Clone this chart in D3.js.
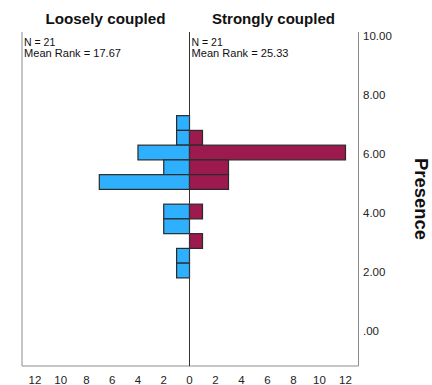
<!DOCTYPE html>
<html>
<head>
<meta charset="utf-8">
<script src="https://cdn.jsdelivr.net/npm/d3@7"></script>
<style>
  body { margin: 0; background: #fff; }
  text { font-family: "Liberation Sans", Arial, sans-serif; }
</style>
</head>
<body>
<div id="chart-area"></div>
<script>
// Population pyramid of Presence by group (SPSS style)

var groups = ["Loosely coupled", "Strongly coupled"];
var groupN = [21, 21];
var meanRanks = ["17.67", "25.33"];

// lower edge of each bin (bin width 0.5), top to bottom
var binStart = [6.8, 6.3, 5.8, 5.3, 4.8, 4.3, 3.8, 3.3, 2.8, 2.3, 1.8];
var binWidth = 0.5;
var looseCounts = [1, 1, 4, 2, 7, 0, 2, 2, 0, 1, 1];
var strongCounts = [0, 1, 12, 3, 3, 0, 1, 0, 1, 0, 0];

var yTicks = [0, 2, 4, 6, 8, 10];
var yTickLabels = [".00", "2.00", "4.00", "6.00", "8.00", "10.00"];
var xTicks = [0, 2, 4, 6, 8, 10, 12];

var width = 432, height = 385;

var svg = d3.select("#chart-area")
    .append("svg")
    .attr("width", width)
    .attr("height", height);

var frameTop = 32, frameBottom = 366;
var frameLeft = 22, center = 189.5, frameRight = 358.5;

// scales
var y = d3.scaleLinear()
    .domain([0, 10])
    .range([331, 36]);

var xLeft = d3.scaleLinear()
    .domain([0, 13])
    .range([center, frameLeft]);

var xRight = d3.scaleLinear()
    .domain([0, 13])
    .range([center, frameRight]);

// frame lines
svg.append("line")
    .attr("x1", frameLeft).attr("x2", frameLeft)
    .attr("y1", frameTop).attr("y2", frameBottom)
    .attr("stroke", "#8c8c8c");

svg.append("line")
    .attr("x1", frameRight).attr("x2", frameRight)
    .attr("y1", frameTop).attr("y2", frameBottom)
    .attr("stroke", "#8c8c8c");

svg.append("line")
    .attr("x1", frameLeft).attr("x2", frameRight)
    .attr("y1", frameBottom).attr("y2", frameBottom)
    .attr("stroke", "#8c8c8c");

// bars
var bins = binStart.map(function(d, i){
    return { lo: d, hi: d + binWidth, loose: looseCounts[i], strong: strongCounts[i] };
});

svg.selectAll(".bar-loose")
    .data(bins.filter(function(d){ return d.loose > 0; }))
    .enter().append("rect")
    .attr("class", "bar-loose")
    .attr("x", function(d){ return xLeft(d.loose); })
    .attr("y", function(d){ return y(d.hi); })
    .attr("width", function(d){ return xLeft(0) - xLeft(d.loose); })
    .attr("height", function(d){ return y(d.lo) - y(d.hi); })
    .attr("fill", "#2eb0ff")
    .attr("stroke", "#2a2a2a")
    .attr("stroke-width", 1.2);

svg.selectAll(".bar-strong")
    .data(bins.filter(function(d){ return d.strong > 0; }))
    .enter().append("rect")
    .attr("class", "bar-strong")
    .attr("x", xRight(0))
    .attr("y", function(d){ return y(d.hi); })
    .attr("width", function(d){ return xRight(d.strong) - xRight(0); })
    .attr("height", function(d){ return y(d.lo) - y(d.hi); })
    .attr("fill", "#9c1a4e")
    .attr("stroke", "#2a2a2a")
    .attr("stroke-width", 1.2);

// center line
svg.append("line")
    .attr("x1", center).attr("x2", center)
    .attr("y1", frameTop).attr("y2", frameBottom)
    .attr("stroke", "#333");

// y axis labels on the right
svg.selectAll(".ytick")
    .data(yTicks)
    .enter().append("text")
    .attr("class", "ytick")
    .attr("x", 363)
    .attr("y", function(d){ return y(d) + 4; })
    .attr("font-size", "11.5px")
    .attr("fill", "#222")
    .text(function(d, i){ return yTickLabels[i]; });

// x axis labels (mirrored)
svg.selectAll(".xtick-left")
    .data(xTicks.filter(function(d){ return d > 0; }))
    .enter().append("text")
    .attr("class", "xtick-left")
    .attr("x", function(d){ return xLeft(d); })
    .attr("y", 383.5)
    .attr("text-anchor", "middle")
    .attr("font-size", "11.5px")
    .attr("fill", "#222")
    .text(function(d){ return d; });

svg.selectAll(".xtick-right")
    .data(xTicks)
    .enter().append("text")
    .attr("class", "xtick-right")
    .attr("x", function(d){ return xRight(d); })
    .attr("y", 383.5)
    .attr("text-anchor", "middle")
    .attr("font-size", "11.5px")
    .attr("fill", "#222")
    .text(function(d){ return d; });

// group headers
var headerX = [105.5, 273.5];
var headerW = [120, 123];
groups.forEach(function(g, i){
    svg.append("text")
        .attr("x", headerX[i])
        .attr("y", 24)
        .attr("text-anchor", "middle")
        .attr("font-size", "15px")
        .attr("font-weight", "bold")
        .attr("fill", "#111")
        .attr("textLength", headerW[i])
        .attr("lengthAdjust", "spacingAndGlyphs")
        .text(g);

    var tx = (i == 0 ? frameLeft : center) + 2;
    svg.append("text")
        .attr("x", tx)
        .attr("y", 45.5)
        .attr("font-size", "10.5px")
        .attr("fill", "#111")
        .text("N = " + groupN[i]);

    svg.append("text")
        .attr("x", tx)
        .attr("y", 56.5)
        .attr("font-size", "10.5px")
        .attr("fill", "#111")
        .attr("textLength", 97)
        .attr("lengthAdjust", "spacingAndGlyphs")
        .text("Mean Rank = " + meanRanks[i]);
});

// y axis title
svg.append("text")
    .attr("transform", "translate(415, 199) rotate(90)")
    .attr("text-anchor", "middle")
    .attr("font-size", "18px")
    .attr("font-weight", "bold")
    .attr("fill", "#111")
    .attr("textLength", 82)
    .attr("lengthAdjust", "spacingAndGlyphs")
    .text("Presence");
</script>
</body>
</html>
